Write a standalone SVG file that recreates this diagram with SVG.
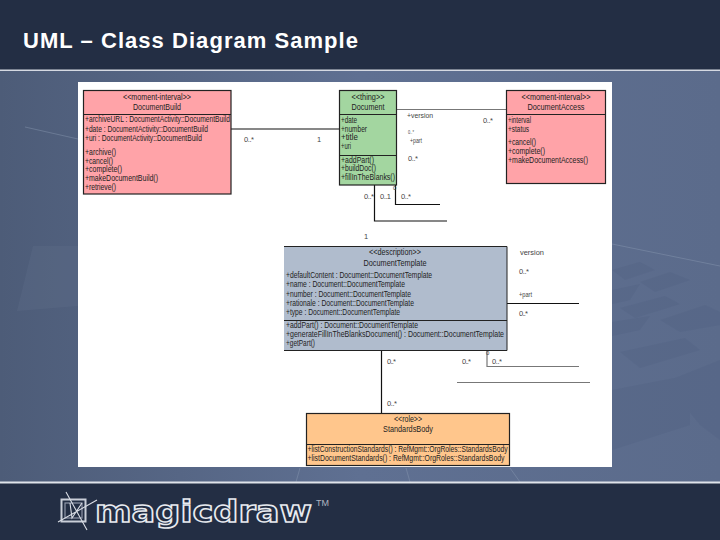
<svg xmlns="http://www.w3.org/2000/svg" width="720" height="540" viewBox="0 0 720 540">
<style>
text{font-family:"Liberation Sans",Arial,sans-serif;font-size:8.2px;fill:#222;}
.c{text-anchor:middle}
.box{stroke:#222;stroke-width:1.2}
.pink{fill:#ffa3a8}.green{fill:#a3d6a0}.blue{fill:#b0bccd}.orange{fill:#ffc68c}
.div{fill:none;stroke:#222;stroke-width:1}
.k{fill:none;stroke:#111;stroke-width:1.2}
.g{fill:none;stroke:#777;stroke-width:1.2}
text.lab{fill:#444;font-size:7.5px}
.key{fill:#4f5f80;opacity:.3}
.streak{fill:none;stroke:#8a98b2;stroke-width:1;opacity:.45}
</style>
<defs>
<linearGradient id="bg" x1="0" y1="0" x2="1" y2="0"><stop offset="0" stop-color="#4d5c78"/><stop offset="0.5" stop-color="#5f7092"/><stop offset="1" stop-color="#5b6b8b"/></linearGradient>
</defs>
<g id="background">
<rect width="720" height="540" fill="#232e44"/>
<rect y="71" width="720" height="411" fill="url(#bg)"/>
<path d="M33 246H78V306L17 311Z" fill="#5d6c88" opacity=".4"/>
<path class="key" d="M612 270L640 262L655 270L625 280Z M640 282L670 272L690 280L655 292Z M612 290L640 284L630 300L612 304Z M620 308L665 296L680 304L635 318Z M660 320L705 305L720 312V325L680 332Z M612 322L650 316L640 330L612 336Z M620 352L685 338L700 350L640 368Z M612 390L690 375L690 425L612 450Z M665 382L720 360V440L700 425Z"/>
<path class="streak" d="M25 127L78 139M612 244L720 266M296 482L300 468M410 482L406 468M520 482L510 468"/>
<rect y="69.500" width="720" height="1.500" fill="#d5d9e2"/>
<rect y="481.500" width="720" height="2" fill="#dfe3ea"/>
</g>
<text x="23" y="47.500" textLength="335" lengthAdjust="spacing" style="font-size:22px;font-weight:bold;fill:#fff">UML – Class Diagram Sample</text>
<rect id="panel" x="78" y="82" width="534" height="385" fill="#fff"/>
<g id="connectors">
<path class="k" d="M231 129H339"/>
<path class="g" d="M396.500 109.500H506"/>
<path class="k" d="M374.500 185V221H447"/>
<path class="k" d="M395.500 185V204.500H440"/>
<path class="k" d="M507 303.500H579"/>
<path class="k" d="M381.500 350V413"/>
<path class="g" d="M487 350V366.500H579"/>
<path class="g" d="M457 382.500H590"/>
</g>
<g id="DocumentBuild">
<rect class="box pink" x="83.500" y="90.500" width="147.500" height="103.500"/>
<path class="div" d="M83.500 114.500H231"/>
<text class="c" x="157" y="99.500" textLength="68" lengthAdjust="spacingAndGlyphs">&lt;&lt;moment-interval&gt;&gt;</text>
<text class="c" x="157" y="110" textLength="48" lengthAdjust="spacingAndGlyphs">DocumentBuild</text>
<text x="85" y="122" textLength="145" lengthAdjust="spacingAndGlyphs">+archiveURL : DocumentActivity::DocumentBuild</text>
<text x="85" y="131.700" textLength="123" lengthAdjust="spacingAndGlyphs">+date : DocumentActivity::DocumentBuild</text>
<text x="85" y="140.700" textLength="117" lengthAdjust="spacingAndGlyphs">+uri : DocumentActivity::DocumentBuild</text>
<text x="85" y="154.700" textLength="31" lengthAdjust="spacingAndGlyphs">+archive()</text>
<text x="85" y="163.500" textLength="28" lengthAdjust="spacingAndGlyphs">+cancel()</text>
<text x="85" y="172.300" textLength="37" lengthAdjust="spacingAndGlyphs">+complete()</text>
<text x="85" y="181.100" textLength="73" lengthAdjust="spacingAndGlyphs">+makeDocumentBuild()</text>
<text x="85" y="189.900" textLength="31" lengthAdjust="spacingAndGlyphs">+retrieve()</text>
</g>
<g id="Document">
<rect class="box green" x="339.500" y="90.500" width="57" height="94.500"/>
<path class="div" d="M339.500 114.500H396.500M339.500 155.500H396.500"/>
<text class="c" x="368" y="99.500" textLength="33" lengthAdjust="spacingAndGlyphs">&lt;&lt;thing&gt;&gt;</text>
<text class="c" x="368" y="110" textLength="33" lengthAdjust="spacingAndGlyphs">Document</text>
<text x="341" y="122.700" textLength="16" lengthAdjust="spacingAndGlyphs">+date</text>
<text x="341" y="131.500" textLength="26" lengthAdjust="spacingAndGlyphs">+number</text>
<text x="341" y="140.300" textLength="17" lengthAdjust="spacingAndGlyphs">+title</text>
<text x="341" y="149.100" textLength="10" lengthAdjust="spacingAndGlyphs">+uri</text>
<text x="341" y="162.500" textLength="33" lengthAdjust="spacingAndGlyphs">+addPart()</text>
<text x="341" y="171.300" textLength="35" lengthAdjust="spacingAndGlyphs">+buildDoc()</text>
<text x="341" y="180.300" textLength="54" lengthAdjust="spacingAndGlyphs">+fillInTheBlanks()</text>
</g>
<g id="DocumentAccess">
<rect class="box pink" x="506.500" y="90.500" width="99" height="93"/>
<path class="div" d="M506.500 114.500H605.500"/>
<text class="c" x="556" y="99.500" textLength="69" lengthAdjust="spacingAndGlyphs">&lt;&lt;moment-interval&gt;&gt;</text>
<text class="c" x="556" y="110" textLength="57" lengthAdjust="spacingAndGlyphs">DocumentAccess</text>
<text x="508" y="122.700" textLength="23" lengthAdjust="spacingAndGlyphs">+interval</text>
<text x="508" y="131.500" textLength="21" lengthAdjust="spacingAndGlyphs">+status</text>
<text x="508" y="144.700" textLength="28" lengthAdjust="spacingAndGlyphs">+cancel()</text>
<text x="508" y="153.500" textLength="37" lengthAdjust="spacingAndGlyphs">+complete()</text>
<text x="508" y="162.700" textLength="80" lengthAdjust="spacingAndGlyphs">+makeDocumentAccess()</text>
</g>
<g id="DocumentTemplate">
<rect x="284" y="246" width="223" height="104.500" class="blue"/>
<path class="div" d="M284 246.500H507V350.500H284M284 320.500H507"/>
<text class="c" x="395" y="255" textLength="52" lengthAdjust="spacingAndGlyphs">&lt;&lt;description&gt;&gt;</text>
<text class="c" x="395" y="266" textLength="63" lengthAdjust="spacingAndGlyphs">DocumentTemplate</text>
<text x="286" y="278.300" textLength="146" lengthAdjust="spacingAndGlyphs">+defaultContent : Document::DocumentTemplate</text>
<text x="286" y="287.300" textLength="119" lengthAdjust="spacingAndGlyphs">+name : Document::DocumentTemplate</text>
<text x="286" y="296.700" textLength="125" lengthAdjust="spacingAndGlyphs">+number : Document::DocumentTemplate</text>
<text x="286" y="305.700" textLength="128" lengthAdjust="spacingAndGlyphs">+rationale : Document::DocumentTemplate</text>
<text x="286" y="314.700" textLength="114" lengthAdjust="spacingAndGlyphs">+type : Document::DocumentTemplate</text>
<text x="286" y="327.700" textLength="132" lengthAdjust="spacingAndGlyphs">+addPart() : Document::DocumentTemplate</text>
<text x="286" y="336.700" textLength="218" lengthAdjust="spacingAndGlyphs">+generateFillInTheBlanksDocument() : Document::DocumentTemplate</text>
<text x="286" y="346" textLength="29" lengthAdjust="spacingAndGlyphs">+getPart()</text>
</g>
<g id="StandardsBody">
<rect class="box orange" x="306.500" y="413.500" width="203" height="52"/>
<path class="div" d="M306.500 444.500H509.500"/>
<text class="c" x="408" y="422.300" textLength="28" lengthAdjust="spacingAndGlyphs">&lt;&lt;role&gt;&gt;</text>
<text class="c" x="408" y="431.700" textLength="50" lengthAdjust="spacingAndGlyphs">StandardsBody</text>
<text x="307.500" y="451.700" textLength="200" lengthAdjust="spacingAndGlyphs">+listConstructionStandards() : RefMgmt::OrgRoles::StandardsBody</text>
<text x="307.500" y="460.700" textLength="197" lengthAdjust="spacingAndGlyphs">+listDocumentStandards() : RefMgmt::OrgRoles::StandardsBody</text>
</g>
<g id="labels">
<text class="lab" x="244" y="142" textLength="10">0..*</text>
<text class="lab" x="317" y="142">1</text>
<text class="lab" x="407" y="118" textLength="26" lengthAdjust="spacingAndGlyphs">+version</text>
<text class="lab" x="483" y="122.700" textLength="10">0..*</text>
<text class="lab" x="408" y="133.500" style="font-size:5.500px" textLength="6" lengthAdjust="spacingAndGlyphs">0..*</text>
<text class="lab" x="410" y="143" style="font-size:6.500px" textLength="12" lengthAdjust="spacingAndGlyphs">+part</text>
<text class="lab" x="408" y="161" textLength="10">0..*</text>
<text class="lab" x="364" y="198.700" textLength="10">0..*</text>
<text class="lab" x="380" y="198.700" textLength="11">0..1</text>
<text class="lab" x="393" y="189.500" style="font-size:6px">0</text>
<text class="lab" x="401" y="198.700" textLength="10">0..*</text>
<text class="lab" x="364" y="238.700">1</text>
<text class="lab" x="520" y="255.300" textLength="24" lengthAdjust="spacingAndGlyphs">version</text>
<text class="lab" x="519" y="274" textLength="10">0..*</text>
<text class="lab" x="519" y="297.300" textLength="13" lengthAdjust="spacingAndGlyphs">+part</text>
<text class="lab" x="519" y="316" textLength="9">0..*</text>
<text class="lab" x="387" y="364" textLength="9">0..*</text>
<text class="lab" x="462" y="364" textLength="9">0..*</text>
<text class="lab" x="486" y="355" style="font-size:6px">0</text>
<text class="lab" x="492" y="364" textLength="10">0..*</text>
<text class="lab" x="387" y="406" textLength="10">0..*</text>
</g>
<g id="logo">
<rect x="61.500" y="499.500" width="24" height="22" fill="none" stroke="#c9ced8" stroke-width="2"/>
<rect x="65" y="503" width="17" height="15" fill="none" stroke="#8f97a8" stroke-width="1.200"/>
<path d="M66 492L87 530M58 522L97 500M70 503L72 518L82 503" stroke="#d8dce4" stroke-width="1.100" fill="none"/>
<text x="95" y="522" textLength="217" lengthAdjust="spacingAndGlyphs" style="font-family:'DejaVu Sans',sans-serif;font-size:30px;font-weight:bold;fill:#232e44;stroke:#e8ebf0;stroke-width:1.500">magicdraw</text>
<text x="316" y="506" style="font-size:9px;fill:#aeb4c0">TM</text>
</g>
</svg>
